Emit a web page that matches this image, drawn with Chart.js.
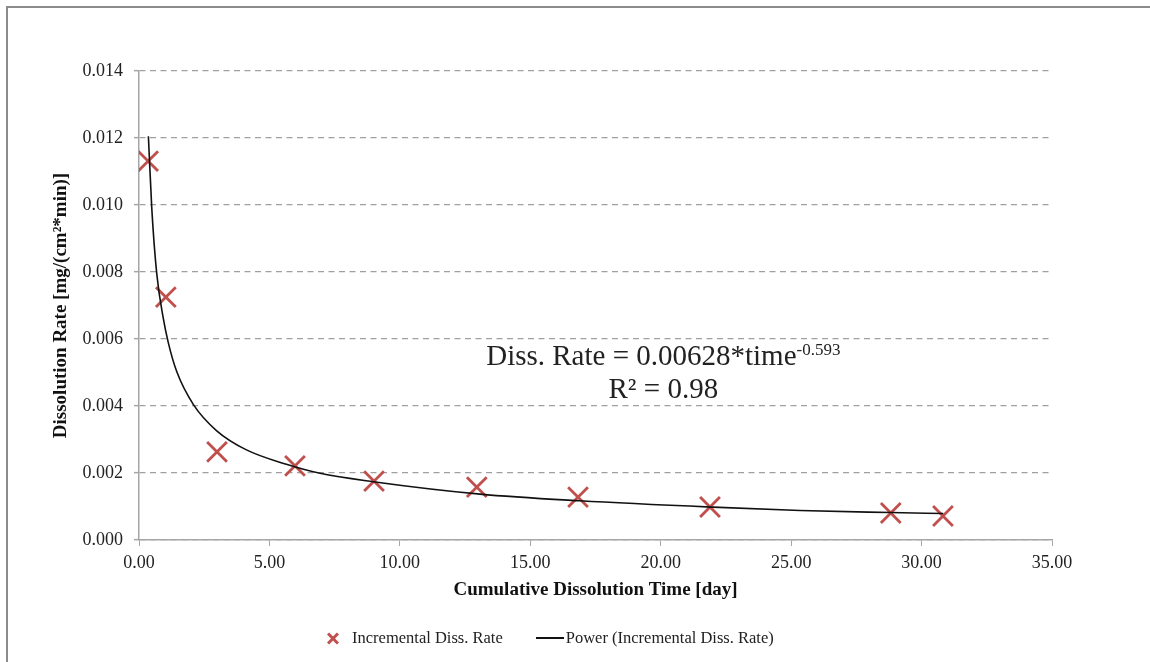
<!DOCTYPE html>
<html>
<head>
<meta charset="utf-8">
<script src="https://cdn.jsdelivr.net/npm/chart.js@4/dist/chart.umd.min.js"></script>
<style>
  html, body { margin: 0; padding: 0; background: #fff; }
  body { width: 1150px; height: 662px; position: relative; overflow: hidden; font-family: 'Liberation Serif', 'Times New Roman', serif; }
  #frame { position: absolute; left: 6px; top: 6px; width: 1200px; height: 700px; border-top: 2px solid #8c8c8c; border-left: 2px solid #8c8c8c; }
  #wrap { position: absolute; left: 0; top: 0; width: 1150px; height: 662px; }
  #legend { position: absolute; left: 326px; top: 628px; display: flex; align-items: center; font-size: 16.5px; color: #222; }
  .legend-item { display: flex; align-items: center; }
  .legend-x { position: relative; width: 14px; height: 14px; margin-right: 12px; }
  .legend-x::before, .legend-x::after { content: ''; position: absolute; left: 0; top: 6px; width: 14px; height: 3px; background: #c0504d; }
  .legend-x::before { transform: rotate(45deg); }
  .legend-x::after { transform: rotate(-45deg); }
  .legend-line { width: 28px; height: 2px; background: #111; margin-right: 2px; }
</style>
</head>
<body>
<div id="frame"></div>
<div id="wrap"><canvas id="chart" width="1150" height="662"></canvas></div>
<div id="legend"></div>
<script>
// Measured points: cumulative time [day] vs incremental dissolution rate
const timeDays = [0.35, 1.03, 2.99, 5.98, 9.01, 12.95, 16.83, 21.89, 28.82, 30.82];
const dissRate = [0.01131, 0.00725, 0.00263, 0.00221, 0.00176, 0.00158, 0.00128, 0.000985, 0.000806, 0.000716];

// Power trendline
const fitTime = [0.36, 0.49, 0.68, 0.93, 1.12, 1.45, 2.08, 2.98, 4.12, 5.65, 6.94, 8.98, 13.07, 16.9, 22.0, 25.34, 28.79, 30.83];
const fitRate = [0.01205, 0.00990, 0.00795, 0.00662, 0.00590, 0.00502, 0.00405, 0.00326, 0.00269, 0.00226,
                 0.00199, 0.00174, 0.00137, 0.00117, 0.00098, 0.00088, 0.00082, 0.00079];

const xTicks = [0, 5, 10, 15, 20, 25, 30, 35];
const yTicks = [0, 0.002, 0.004, 0.006, 0.008, 0.010, 0.012, 0.014];

const COLOURS = {
  marker: '#c0504d',
  fit:    '#111111',
  grid:   '#a0a0a0',
  axis:   '#a6a6a6',
  text:   '#222222',
};

const FONT = "'Liberation Serif', 'Times New Roman', serif";

// Equation text drawn inside the plot
const equationPlugin = {
  id: 'equation',
  afterDraw(chart) {
    const { ctx, scales: { x, y } } = chart;
    const cx = x.getPixelForValue(20.1);
    const by = y.getPixelForValue(0.00522);
    const main = 'Diss. Rate = 0.00628*time';
    const sup = '-0.593';
    ctx.save();
    ctx.fillStyle = COLOURS.text;
    ctx.textBaseline = 'alphabetic';
    ctx.font = `29px ${FONT}`;
    const wMain = ctx.measureText(main).width;
    ctx.font = `17px ${FONT}`;
    const wSup = ctx.measureText(sup).width;
    const left = cx - (wMain + wSup) / 2;
    ctx.font = `29px ${FONT}`;
    ctx.textAlign = 'left';
    ctx.fillText(main, left, by);
    ctx.font = `17px ${FONT}`;
    ctx.fillText(sup, left + wMain, by - 10);
    ctx.font = `29px ${FONT}`;
    ctx.textAlign = 'center';
    ctx.fillText('R² = 0.98', cx, by + 33);
    ctx.restore();
  },
};

const canvas = document.getElementById('chart');
new Chart(canvas, {
  type: 'scatter',
  data: {
    datasets: [
      {
        label: 'Incremental Diss. Rate',
        data: timeDays.map((t, i) => ({ x: t, y: dissRate[i] })),
        pointStyle: 'crossRot',
        pointRadius: 14,
        pointBorderWidth: 2.8,
        borderColor: COLOURS.marker,
        backgroundColor: COLOURS.marker,
        showLine: false,
        order: 2,
      },
      {
        label: 'Power (Incremental Diss. Rate)',
        data: fitTime.map((t, i) => ({ x: t, y: fitRate[i] })),
        showLine: true,
        pointRadius: 0,
        borderColor: COLOURS.fit,
        borderWidth: 1.6,
        cubicInterpolationMode: 'monotone',
        order: 1,
      },
    ],
  },
  options: {
    responsive: false,
    animation: false,
    layout: { padding: { left: 50, top: 71, right: 98, bottom: 57 } },
    plugins: {
      legend: { display: false },
      tooltip: { enabled: false },
    },
    scales: {
      x: {
        type: 'linear',
        min: 0,
        max: 35,
        afterBuildTicks(scale) { scale.ticks = xTicks.map(v => ({ value: v })); },
        afterFit(scale) { scale.height = 65; },
        ticks: {
          padding: 6,
          color: COLOURS.text,
          font: { family: FONT, size: 18 },
          callback: v => v.toFixed(2),
        },
        grid: { drawOnChartArea: false, drawTicks: true, tickLength: 6, color: COLOURS.axis, tickColor: COLOURS.axis },
        border: { color: COLOURS.axis, width: 1.5 },
        title: {
          display: true,
          text: 'Cumulative Dissolution Time [day]',
          color: '#111',
          font: { family: FONT, size: 19, weight: 'bold' },
        },
      },
      y: {
        type: 'linear',
        min: 0,
        max: 0.014,
        afterBuildTicks(scale) { scale.ticks = yTicks.map(v => ({ value: v })); },
        afterFit(scale) { scale.width = 89; },
        ticks: {
          padding: 11,
          color: COLOURS.text,
          font: { family: FONT, size: 18 },
          callback: v => v.toFixed(3),
        },
        grid: { color: COLOURS.grid, lineWidth: 1.3, tickLength: 5, tickColor: COLOURS.axis, tickWidth: 1.5 },
        border: { color: COLOURS.axis, width: 1.5, dash: [6, 4.5] },
        title: {
          display: true,
          text: 'Dissolution Rate [mg/(cm²*min)]',
          color: '#111',
          font: { family: FONT, size: 19, weight: 'bold' },
          padding: { top: 0, bottom: 2 },
        },
      },
    },
  },
  plugins: [equationPlugin],
});

// HTML legend
const legendItems = [
  { label: 'Incremental Diss. Rate', kind: 'x' },
  { label: 'Power (Incremental Diss. Rate)', kind: 'line' },
];
document.getElementById('legend').innerHTML = legendItems.map((item, i) => `
  <div class="legend-item" style="margin-right:${i === 0 ? 33 : 0}px">
    <div class="${item.kind === 'x' ? 'legend-x' : 'legend-line'}"></div>
    <span>${item.label}</span>
  </div>
`).join('');
</script>
</body>
</html>
